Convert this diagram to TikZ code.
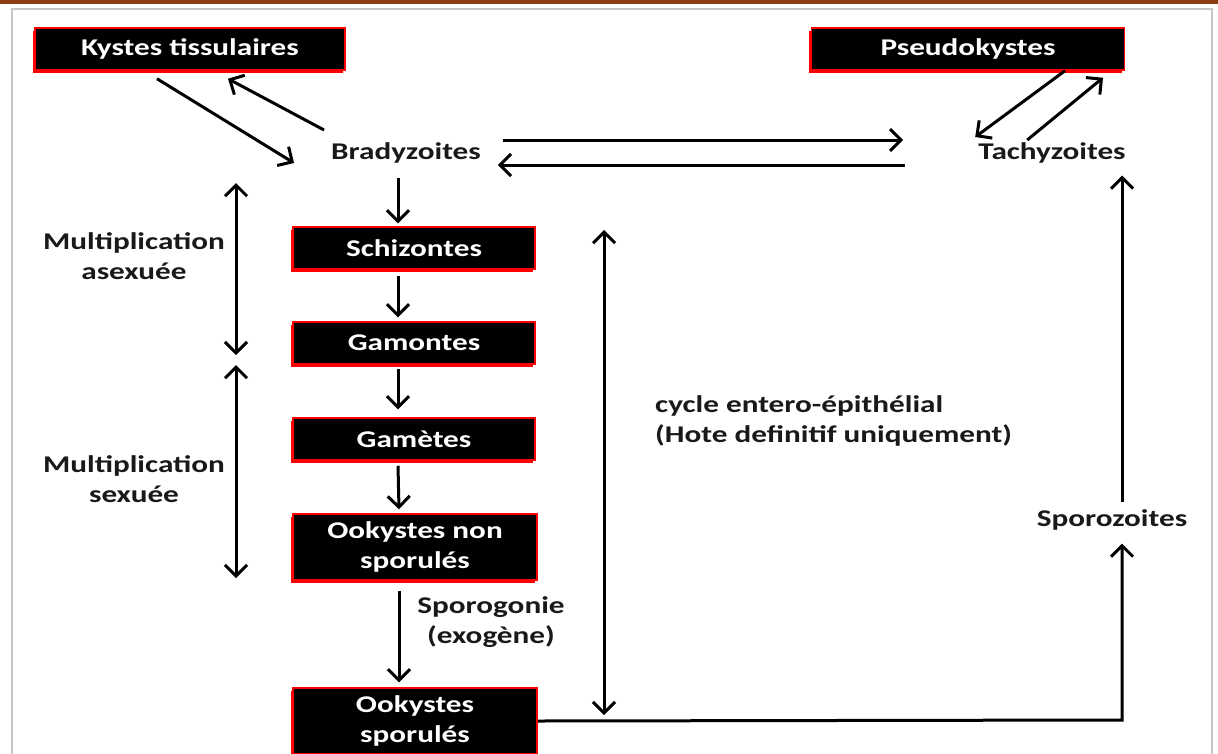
\documentclass[tikz,border=0pt]{standalone}
\usepackage{fontspec}
\setmainfont{Carlito}[FakeStretch=1.3]
\usetikzlibrary{arrows.meta,calc,shadows}

\definecolor{topbar}{RGB}{140,60,20}
\newcommand\lab{\bfseries\fontsize{24}{30}\selectfont}

\tikzset{
  stage/.style={fill=black, draw=red, line width=1.5pt, text=white, font=\lab,
    minimum height=42pt, inner sep=0pt, align=center,
    general shadow={fill=red, shadow xshift=-2.5pt, shadow yshift=-2.5pt}},
  lbl/.style={font=\lab, text=black!90, inner sep=0pt, align=center},
  arr/.style={line width=3pt, -{Straight Barb[length=11pt,width=22pt]}},
  darr/.style={line width=3pt, {Straight Barb[length=11pt,width=22pt]}-{Straight Barb[length=11pt,width=22pt]}}
}

\begin{document}
\begin{tikzpicture}[x=1pt,y=-1pt]
  \useasboundingbox (0,0) rectangle (1218,753);

  %%%%% frame %%%%%
  \fill[topbar] (0,0) rectangle (1218,4);
  \draw[gray!45, line width=1.5pt] (12,770) -- (12,9) -- (1212,9) -- (1212,770);

  %%%%% stages %%%%%
  \node[stage, minimum width=310pt] (kyst) at (190,49) {Kystes tissulaires};
  \node[stage, minimum width=313pt] (pseudo) at (968,49) {Pseudokystes};
  \node[lbl] (brady) at (406,153) {Bradyzoites};
  \node[lbl] (tachy) at (1052,153) {Tachyzoites};

  \node[stage, minimum width=242pt] (schizo) at (414,248) {Schizontes};
  \node[stage, minimum width=242pt] (gamon) at (414,343) {Gamontes};
  \node[stage, minimum width=242pt] (gamet) at (414,439) {Gamètes};
  \node[stage, minimum width=244pt, minimum height=66pt] (ookns) at (415,547) {Ookystes non\\sporulés};
  \node[stage, minimum width=244pt, minimum height=66pt] (ooks) at (415,721) {Ookystes\\sporulés};

  \node[lbl] (sporo) at (1112,520) {Sporozoites};

  %%%%% labels %%%%%
  \node[lbl] (asex) at (134,256) {Multiplication\\asexuée};
  \node[lbl] (sex) at (134,479) {Multiplication\\sexuée};
  \node[lbl] (sporog) at (491,622) {Sporogonie\\(exogène)};
  \node[lbl, anchor=west, align=left] (cycle) at (655,421) {cycle entero-épithélial\\(Hote definitif uniquement)};

  \coordinate (asexTop) at (236,183);
  \coordinate (asexBot) at (236,355);
  \coordinate (sexTop) at (236,365);
  \coordinate (sexBot) at (236,578);
  \coordinate (cycTop) at (604,230);
  \coordinate (cycBot) at (604,715);
  \coordinate (turn) at (1122,720);

  %%%%% top exchanges %%%%%
  \draw[arr] ($(kyst.south)+(-33,8)$) -- ($(brady.west)+(-37,10)$);
  \draw[arr] ($(brady.west)+(-7,-23)$) -- ($(kyst.south)+(38,8)$);
  \draw[arr] ($(brady.east)+(22,-13)$) -- ($(tachy.west)+(-75,-13)$);
  \draw[arr] ($(tachy.west)+(-73,12)$) -- ($(brady.east)+(17,12)$);
  \draw[arr] ($(pseudo.south)+(97,0)$) -- ($(tachy.west)+(-3,-16)$);
  \draw[arr] ($(tachy.west)+(49,-13)$) -- ($(pseudo.south)+(135,7)$);

  %%%%% entero-epithelial chain %%%%%
  \draw[arr] ($(schizo.north)+(-16,-48)$) -- ($(schizo.north)+(-16,-3)$);
  \draw[arr] ($(schizo.south)+(-16,6)$) -- ($(gamon.north)+(-16,-4)$);
  \draw[arr] ($(gamon.south)+(-16,4)$) -- ($(gamet.north)+(-16,-8)$);
  \draw[arr] ($(gamet.south)+(-16,5)$) -- ($(ookns.north)+(-16,-4)$);
  \draw[arr] ($(ookns.south)+(-16,10)$) -- ($(ooks.north)+(-16,-5)$);

  \draw[darr] (asexTop) -- (asexBot);
  \draw[darr] (sexTop) -- (sexBot);
  \draw[darr] (cycBot) -- (cycTop);

  %%%%% back to tachyzoites %%%%%
  \draw[arr] (ooks.east) -- (turn) -- ($(sporo.south -| turn)+(0,13)$);
  \draw[arr] ($(sporo.north -| turn)+(0,-8)$) -- ($(tachy.south -| turn)+(0,12)$);
\end{tikzpicture}
\end{document}
